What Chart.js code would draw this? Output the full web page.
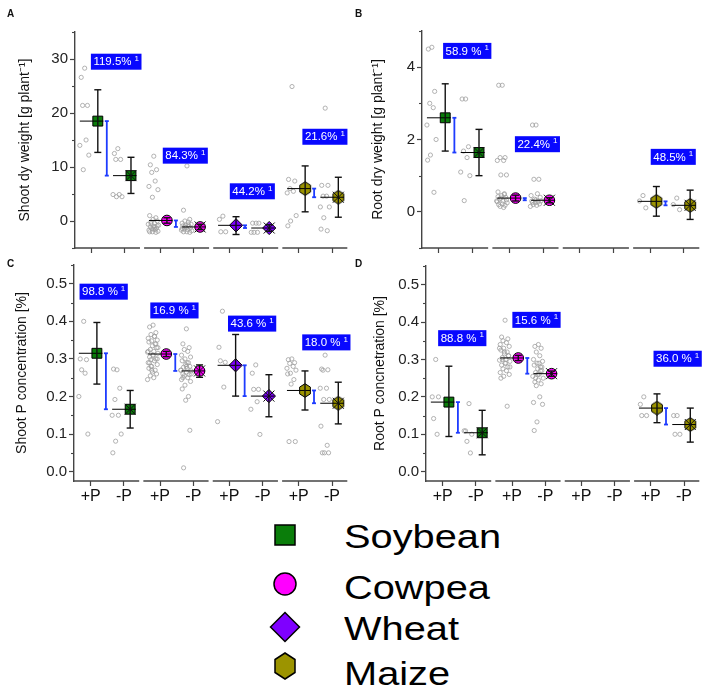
<!DOCTYPE html>
<html>
<head>
<meta charset="utf-8">
<script src="https://cdn.jsdelivr.net/npm/chart.js@4.4.1/dist/chart.umd.min.js"></script>
<style>
  body { margin: 0; background: #fff; }
  #fig { position: relative; width: 708px; height: 689px; overflow: hidden; font-family: "Liberation Sans", Arial, sans-serif; }
  #fig canvas { position: absolute; }
  .tag { position: absolute; font-weight: bold; font-size: 10px; color: #111; }
  .legtext { position: absolute; left: 344px; font-size: 34px; line-height: 34px; color: #000; white-space: nowrap; transform: scaleX(1.17); transform-origin: left center; }
  .legmark { position: absolute; }
</style>
</head>
<body>
<div id="fig">
  <canvas id="cA" width="356" height="262" style="left:0;top:0"></canvas>
  <canvas id="cB" width="358" height="262" style="left:350px;top:0"></canvas>
  <canvas id="cC" width="356" height="265" style="left:0;top:250px"></canvas>
  <canvas id="cD" width="358" height="265" style="left:350px;top:250px"></canvas>
  <div class="tag" style="left:7px;top:8px">A</div>
  <div class="tag" style="left:355px;top:8px">B</div>
  <div class="tag" style="left:7px;top:258px">C</div>
  <div class="tag" style="left:355px;top:258px">D</div>
</div>
<script>
const crops = ['Soybean', 'Cowpea', 'Wheat', 'Maize'];
const treatments = ['+P', '-P'];
const cropColors = ['#0a7d0a', '#ff00ff', '#7f00ff', '#9c9400'];

// A - shoot dry weight
const shootDwMean = [[18.5, 8.4], [0.1, -1.1], [-0.8, -1.3], [6.0, 4.4]];
const shootDwLow = [[12.7, 5.1], [-0.4, -1.6], [-2.5, -1.9], [1.7, 0.7]];
const shootDwHigh = [[24.3, 11.8], [0.6, -0.6], [0.8, -0.7], [10.2, 8.1]];
const shootDwRaw = [
  [[28.3, 26.6, 21.4, 21.4, 15.0, 14.0, 12.2, 9.5], [13.4, 12.5, 11.4, 11.4, 4.9, 4.9, 4.5, 4.5]],
  [[12.0, 10.4, 9.5, 9.0, 7.4, 6.4, 5.8, 4.4, 1.0, 0.6, 0.3, 0.0, -0.2, -0.4, -0.6, -0.8, -1.0, -1.1, -1.3, -1.4, -1.6, -1.7, -1.9, -2.0, -2.0, -2.1, -1.5, -0.9, -0.5, -1.2],
   [10.2, 2.0, 0.3, 0.0, -0.2, -0.4, -0.6, -0.8, -0.9, -1.0, -1.2, -1.3, -1.5, -1.6, -1.7, -1.8, -2.0, -2.0, -2.1, -1.1, -0.7, -1.4]],
  [[0.9, 0.3, -2.0, -2.0], [-0.4, -0.4, -0.4, -2.1, -2.1, -2.1]],
  [[24.9, 7.7, 7.4, 6.0, 5.5, 5.2, 1.0, 0.0, -0.9], [20.9, 6.6, 6.6, 4.6, 4.6, 2.6, 2.6, 0.6, -1.5, -1.8]]
];
const shootDwChange = ['119.5%', '84.3%', '44.2%', '21.6%'];

// B - root dry weight (no wheat)
const rootDwMean = [[2.6, 1.64], [0.38, 0.32], [null, null], [0.29, 0.18]];
const rootDwLow = [[1.68, 1.0], [0.3, 0.25], [null, null], [-0.12, -0.21]];
const rootDwHigh = [[3.54, 2.28], [0.46, 0.39], [null, null], [0.7, 0.6]];
const rootDwRaw = [
  [[4.55, 4.5, 3.33, 3.0, 2.88, 2.4, 2.0, 1.57, 1.43, 0.54], [3.12, 3.12, 1.8, 1.68, 1.5, 1.1, 1.0, 0.31]],
  [[3.5, 3.5, 1.5, 1.5, 1.42, 1.42, 1.02, 1.02, 0.55, 0.5, 0.45, 0.4, 0.35, 0.3, 0.3, 0.25, 0.22, 0.2, 0.18, 0.15, 0.12, 0.28, 0.33, 0.38, 0.42, 0.48],
   [2.4, 2.4, 0.9, 0.9, 0.5, 0.45, 0.4, 0.35, 0.3, 0.28, 0.25, 0.22, 0.2, 0.18, 0.15, 0.3, 0.33, 0.26]],
  [[], []],
  [[0.45, 0.3, 0.11], [0.38, 0.2, 0.06]]
];
const rootDwChange = ['58.9 %', '22.4%', '', '48.5%'];

// C - shoot P concentration
const shootPMean = [[0.315, 0.166], [0.313, 0.268], [0.283, 0.201], [0.216, 0.182]];
const shootPLow = [[0.233, 0.116], [0.306, 0.251], [0.201, 0.146], [0.164, 0.127]];
const shootPHigh = [[0.397, 0.216], [0.32, 0.284], [0.365, 0.258], [0.268, 0.238]];
const shootPRaw = [
  [[0.40, 0.30, 0.298, 0.271, 0.262, 0.20, 0.10], [0.271, 0.273, 0.222, 0.192, 0.15, 0.15, 0.10, 0.081, 0.05]],
  [[0.39, 0.385, 0.37, 0.365, 0.36, 0.355, 0.35, 0.348, 0.345, 0.34, 0.335, 0.33, 0.325, 0.32, 0.318, 0.315, 0.31, 0.305, 0.30, 0.298, 0.295, 0.29, 0.285, 0.28, 0.275, 0.27, 0.265, 0.26, 0.255, 0.25, 0.245, 0.33, 0.31, 0.29, 0.34, 0.28, 0.36, 0.32, 0.30, 0.27],
   [0.38, 0.34, 0.33, 0.325, 0.32, 0.31, 0.305, 0.30, 0.295, 0.29, 0.285, 0.28, 0.278, 0.275, 0.27, 0.268, 0.265, 0.26, 0.258, 0.255, 0.25, 0.245, 0.24, 0.23, 0.22, 0.20, 0.19, 0.11, 0.01, 0.29, 0.27, 0.26, 0.28, 0.25]],
  [[0.427, 0.331, 0.291, 0.295, 0.225, 0.133], [0.284, 0.262, 0.219, 0.219, 0.186, 0.166, 0.099]],
  [[0.30, 0.298, 0.29, 0.288, 0.28, 0.275, 0.27, 0.262, 0.26, 0.245, 0.233, 0.08, 0.08], [0.31, 0.273, 0.271, 0.27, 0.222, 0.222, 0.192, 0.192, 0.121, 0.07, 0.05, 0.05, 0.05]]
];
const shootPChange = ['98.8 %', '16.9 %', '43.6 %', '18.0 %'];

// D - root P concentration (no wheat)
const rootPMean = [[0.186, 0.104], [0.304, 0.262], [null, null], [0.17, 0.126]];
const rootPLow = [[0.094, 0.045], [0.297, 0.255], [null, null], [0.131, 0.079]];
const rootPHigh = [[0.282, 0.164], [0.311, 0.269], [null, null], [0.208, 0.17]];
const rootPRaw = [
  [[0.30, 0.20, 0.20, 0.142, 0.10], [0.182, 0.109, 0.10, 0.081, 0.05, 0.109]],
  [[0.405, 0.36, 0.355, 0.35, 0.345, 0.34, 0.335, 0.33, 0.325, 0.32, 0.315, 0.31, 0.305, 0.30, 0.298, 0.295, 0.29, 0.285, 0.28, 0.275, 0.27, 0.265, 0.26, 0.255, 0.25, 0.175, 0.32, 0.31, 0.30, 0.29, 0.33, 0.28],
   [0.34, 0.335, 0.33, 0.32, 0.31, 0.30, 0.295, 0.29, 0.285, 0.28, 0.275, 0.27, 0.265, 0.26, 0.255, 0.25, 0.245, 0.24, 0.235, 0.23, 0.20, 0.185, 0.18, 0.133, 0.11, 0.27, 0.26, 0.28, 0.25, 0.29]],
  [[], []],
  [[0.20, 0.18, 0.15, 0.15], [0.15, 0.15, 0.10, 0.10]]
];
const rootPChange = ['88.8 %', '15.6 %', '', '36.0 %'];

// layout (not data)
const FONT = '"Liberation Sans", Arial, sans-serif';
const axisColor = '#444';
const tickOff = [0.24, 0.72];
const jitter = [-0.10, -0.15, -0.06, -0.13, -0.08, -0.17, -0.04, -0.12, -0.16, -0.07, -0.11, -0.05, -0.14, -0.09, -0.18, -0.03];

const panels = [
  { id: 'cA', mean: shootDwMean, low: shootDwLow, high: shootDwHigh, raw: shootDwRaw, change: shootDwChange,
    title: 'Shoot dy weight [g plant\u207B\u00B9]', yMin: -5, yMax: 35, step: 5, majorEvery: 2, dec: 0, showX: false,
    lay: { yWidth: 75, padTop: 32, padRight: 3, xHeight: 14, titlePad: 17 },
    spots: [[0.23, 29.5], [1.27, 12.1], [2.24, 5.5], [3.29, 15.6]] },
  { id: 'cB', mean: rootDwMean, low: rootDwLow, high: rootDwHigh, raw: rootDwRaw, change: rootDwChange,
    title: 'Root dry weight [g plant\u207B\u00B9]', yMin: -1, yMax: 5, step: 1, majorEvery: 2, dec: 0, showX: false,
    lay: { yWidth: 72, padTop: 31, padRight: 2, xHeight: 14, titlePad: 20 },
    spots: [[0.3, 4.45], [1.32, 1.87], null, [3.25, 1.52]] },
  { id: 'cC', mean: shootPMean, low: shootPLow, high: shootPHigh, raw: shootPRaw, change: shootPChange,
    title: 'Shoot P concentration [%]', yMin: -0.025, yMax: 0.55, step: 0.05, majorEvery: 2, dec: 1, showX: true,
    lay: { yWidth: 74, padTop: 15, padRight: 6, xHeight: 34, titlePad: 14 },
    spots: [[0.08, 0.479], [1.1, 0.429], [2.22, 0.394], [3.29, 0.344]] },
  { id: 'cD', mean: rootPMean, low: rootPLow, high: rootPHigh, raw: rootPRaw, change: rootPChange,
    title: 'Root P concnetration [%]', yMin: -0.025, yMax: 0.55, step: 0.05, majorEvery: 2, dec: 1, showX: true,
    lay: { yWidth: 76, padTop: 16, padRight: 5, xHeight: 34, titlePad: 22 },
    spots: [[0.175, 0.357], [1.245, 0.406], null, [3.28, 0.302]] }
];

function hexImage(fill) {
  const c = document.createElement('canvas');
  c.width = 14; c.height = 15;
  const g = c.getContext('2d');
  g.beginPath();
  for (let k = 0; k < 6; k++) {
    const a = Math.PI / 3 * k - Math.PI / 2;
    const px = 7 + 6.2 * Math.cos(a), py = 7.5 + 6.8 * Math.sin(a);
    if (k) g.lineTo(px, py); else g.moveTo(px, py);
  }
  g.closePath();
  g.fillStyle = fill; g.fill();
  g.lineWidth = 1; g.strokeStyle = '#000'; g.stroke();
  return c;
}
const markerStyles = ['rect', 'circle', 'rectRot', hexImage(cropColors[3])];
const markerRadius = [7, 5.3, 6.6, 6];

function line(ctx, x1, y1, x2, y2) {
  ctx.beginPath(); ctx.moveTo(x1, y1); ctx.lineTo(x2, y2); ctx.stroke();
}

function makeDecor(p) {
  return {
    id: 'decor',
    afterDatasetsDraw(chart) {
      const ctx = chart.ctx, xs = chart.scales.x, ys = chart.scales.y, area = chart.chartArea;
      ctx.save();
      // broken x axis, one piece per crop
      ctx.strokeStyle = axisColor; ctx.lineWidth = 1.4;
      crops.forEach((c, i) => {
        line(ctx, xs.getPixelForValue(i), area.bottom, xs.getPixelForValue(i + 0.94), area.bottom);
      });
      // minor y ticks
      ctx.lineWidth = 1.1;
      ys.ticks.forEach(t => {
        if (!t.minor) return;
        const y = Math.round(ys.getPixelForValue(t.value)) + 0.5;
        line(ctx, area.left - 3, y, area.left, y);
      });
      crops.forEach((c, i) => {
        if (p.mean[i][0] == null) return;
        treatments.forEach((t, k) => {
          const tx = i + tickOff[k];
          const mx = xs.getPixelForValue(tx + 0.09);
          const ym = ys.getPixelForValue(p.mean[i][k]);
          ctx.strokeStyle = '#000'; ctx.lineWidth = 1;
          line(ctx, xs.getPixelForValue(tx - 0.17), ym, xs.getPixelForValue(tx + 0.17), ym);
          const yl = ys.getPixelForValue(p.low[i][k]), yh = ys.getPixelForValue(p.high[i][k]);
          ctx.strokeStyle = '#111'; ctx.lineWidth = 1.4;
          line(ctx, mx, yl, mx, yh);
          line(ctx, mx - 3.5, yl, mx + 3.5, yl);
          line(ctx, mx - 3.5, yh, mx + 3.5, yh);
          if (k === 1) {
            ctx.lineWidth = 1;
            line(ctx, mx - 5.5, ym - 5.5, mx + 5.5, ym + 5.5);
            line(ctx, mx - 5.5, ym + 5.5, mx + 5.5, ym - 5.5);
          }
        });
        // blue bracket between +P and -P means
        const bx = xs.getPixelForValue(i + tickOff[0] + 0.22);
        const b1 = ys.getPixelForValue(p.mean[i][0]), b2 = ys.getPixelForValue(p.mean[i][1]);
        ctx.strokeStyle = '#1e3cff'; ctx.lineWidth = 1.8;
        line(ctx, bx, b1, bx, b2);
        line(ctx, bx - 2, b1, bx + 2, b1);
        line(ctx, bx - 2, b2, bx + 2, b2);
        // percentage label
        const s = p.spots[i];
        if (s && p.change[i]) {
          ctx.font = '11.5px ' + FONT;
          const w = ctx.measureText(p.change[i]).width;
          ctx.font = '8px ' + FONT;
          const sw = ctx.measureText('1').width;
          const x0 = xs.getPixelForValue(s[0]), yc = ys.getPixelForValue(s[1]);
          const bw = 2.5 + w + 3 + sw + 2.5;
          ctx.fillStyle = '#0808ff';
          ctx.fillRect(x0, yc - 8, bw, 16);
          ctx.fillStyle = '#fff';
          ctx.textBaseline = 'middle';
          ctx.font = '11.5px ' + FONT;
          ctx.fillText(p.change[i], x0 + 2.5, yc + 0.5);
          ctx.font = '8px ' + FONT;
          ctx.fillText('1', x0 + 2.5 + w + 3, yc - 3);
        }
      });
      ctx.restore();
    }
  };
}

const xTickVals = [];
crops.forEach((c, i) => tickOff.forEach(o => xTickVals.push(i + o)));

panels.forEach(p => {
  const rawPts = [], meanPts = [], styles = [], fills = [], radii = [];
  crops.forEach((c, i) => {
    treatments.forEach((t, k) => {
      p.raw[i][k].forEach((v, n) => rawPts.push({ x: i + tickOff[k] + jitter[n % jitter.length], y: v }));
      if (p.mean[i][k] != null) {
        meanPts.push({ x: i + tickOff[k] + 0.09, y: p.mean[i][k] });
        styles.push(markerStyles[i]); fills.push(cropColors[i]); radii.push(markerRadius[i]);
      }
    });
  });
  const yTicks = [];
  const first = Math.ceil(p.yMin / p.step - 1e-9);
  for (let k = first; ; k++) {
    const val = Math.round(k * p.step * 1000) / 1000;
    if (val > p.yMax + 1e-9) break;
    yTicks.push({ value: val, minor: k % p.majorEvery !== 0 });
  }
  const lay = p.lay;
  new Chart(document.getElementById(p.id).getContext('2d'), {
    type: 'scatter',
    data: {
      datasets: [
        { label: 'mean', data: meanPts, order: 0, pointStyle: styles, backgroundColor: fills,
          borderColor: '#000', borderWidth: 1, pointRadius: radii },
        { label: 'raw', data: rawPts, order: 1, pointStyle: 'circle', pointRadius: 2.1,
          borderColor: '#a0a0a0', borderWidth: 0.8, backgroundColor: 'rgba(0,0,0,0)' }
      ]
    },
    options: {
      responsive: false,
      animation: false,
      events: [],
      layout: { padding: { left: 0, top: lay.padTop, right: lay.padRight, bottom: 0 } },
      plugins: { legend: { display: false }, tooltip: { enabled: false } },
      scales: {
        x: {
          type: 'linear', min: 0, max: 3.95,
          afterBuildTicks: ax => { ax.ticks = xTickVals.map(v => ({ value: v })); },
          afterFit: ax => { ax.height = lay.xHeight; },
          ticks: { display: p.showX, autoSkip: false, maxRotation: 0, padding: 1, color: '#111',
            font: { size: 16, family: FONT }, callback: (v, i) => treatments[i % 2] },
          grid: { drawOnChartArea: false, drawTicks: true, tickLength: 5, tickColor: axisColor, tickWidth: 1.2 },
          border: { display: false }
        },
        y: {
          min: p.yMin, max: p.yMax,
          afterBuildTicks: ax => { ax.ticks = yTicks.map(t => ({ value: t.value, minor: t.minor })); },
          afterFit: ax => { ax.width = lay.yWidth; },
          ticks: { autoSkip: false, padding: 2, color: '#222', font: { size: 15, family: FONT },
            callback: (v, i, ts) => ts[i].minor ? '' : v.toFixed(p.dec) },
          grid: { drawOnChartArea: false, drawTicks: true, tickLength: 5, tickWidth: 1.2,
            tickColor: c => (c.tick && c.tick.minor) ? 'rgba(0,0,0,0)' : axisColor },
          border: { display: true, color: axisColor, width: 1.4 },
          title: { display: true, text: p.title, color: '#111', font: { size: 14, family: FONT },
            padding: { top: lay.titlePad, bottom: 0 } }
        }
      }
    },
    plugins: [makeDecor(p)]
  });
});

// legend
const legendRows = [535, 584, 627, 666];
const legendText = [519, 570, 611, 656];
const fig = document.getElementById('fig');
crops.forEach((c, i) => {
  const cy = legendRows[i];
  const svgNS = 'http://www.w3.org/2000/svg';
  const svg = document.createElementNS(svgNS, 'svg');
  svg.setAttribute('width', 34); svg.setAttribute('height', 34);
  svg.setAttribute('class', 'legmark');
  svg.style.left = (285 - 17) + 'px'; svg.style.top = (cy - 17) + 'px';
  let shape;
  if (i === 0) {
    shape = document.createElementNS(svgNS, 'rect');
    shape.setAttribute('x', 7); shape.setAttribute('y', 7); shape.setAttribute('width', 20); shape.setAttribute('height', 20);
  } else if (i === 1) {
    shape = document.createElementNS(svgNS, 'circle');
    shape.setAttribute('cx', 17); shape.setAttribute('cy', 17); shape.setAttribute('r', 11);
  } else if (i === 2) {
    shape = document.createElementNS(svgNS, 'polygon');
    shape.setAttribute('points', '2.5,17 17,2.5 31.5,17 17,31.5');
  } else {
    shape = document.createElementNS(svgNS, 'polygon');
    const pts = [];
    for (let k = 0; k < 6; k++) {
      const a = Math.PI / 3 * k - Math.PI / 2;
      pts.push((17 + 11.5 * Math.cos(a)).toFixed(1) + ',' + (17 + 13 * Math.sin(a)).toFixed(1));
    }
    shape.setAttribute('points', pts.join(' '));
  }
  shape.setAttribute('fill', cropColors[i]);
  shape.setAttribute('stroke', '#000');
  shape.setAttribute('stroke-width', 1.5);
  svg.appendChild(shape);
  fig.appendChild(svg);
  const d = document.createElement('div');
  d.className = 'legtext';
  d.style.top = legendText[i] + 'px';
  d.textContent = c;
  fig.appendChild(d);
});
</script>
</body>
</html>
